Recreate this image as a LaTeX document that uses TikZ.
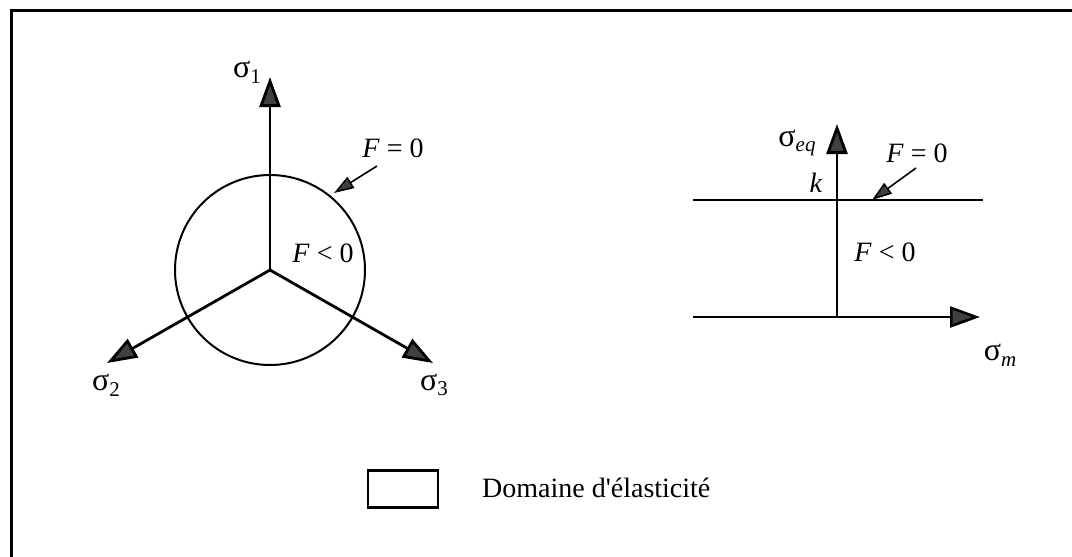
\documentclass[tikz,border=0pt]{standalone}
\usepackage{fontspec}
\setmainfont{Liberation Serif}
\newfontfamily\plainfont{Liberation Serif}
\usetikzlibrary{arrows.meta}
\newcommand\mysub[1]{\raisebox{-0.45ex}{\fontsize{21}{21}\selectfont #1}}
\newcommand\sig{{\fontsize{32}{32}\selectfont σ}}
\begin{document}
\begin{tikzpicture}[x=1pt,y=-1pt,
  axis/.style={line width=2.8pt,-{Triangle[length=30pt,width=21pt,fill=black!75]}},
  bigline/.style={line width=2.4pt},
  pointer/.style={line width=1.6pt,-{Triangle[length=20pt,width=13pt,fill=black!75]}},
  lbl/.style={font=\fontsize{28}{28}\selectfont,inner sep=0pt},
  txt/.style={font=\plainfont\fontsize{28}{30}\selectfont,inner sep=0pt}]
\useasboundingbox (0,0) rectangle (1072,557);
\fill[white] (0,0) rectangle (1072,557);
% frame
\draw[line width=3pt] (11,600) -- (11,10) -- (1100,10);
% left diagram
\coordinate (O) at (270,270);
\coordinate (T1) at (270,77);
\coordinate (T2) at (107,363);
\coordinate (T3) at (433,363);
\node[circle,draw,line width=2pt,minimum size=190pt,inner sep=0pt] (C) at (O) {};
\draw[axis] (O) -- (T1);
\draw[axis] (O) -- (T2);
\draw[axis] (O) -- (T3);
\node[lbl] (s1) at (247,72) {\sig\mysub{1}};
\node[lbl] (s2) at (106,385) {\sig\mysub{2}};
\node[lbl] (s3) at (434,385) {\sig\mysub{3}};
\node[lbl] (Fe1) at (393,148) {\textit{F} = 0};
\coordinate (P1) at (377,166);
\coordinate (Q1) at (334,193);
\draw[pointer] (P1) -- (Q1);
\node[lbl] (Fl1) at (323,253) {\textit{F} < 0};
% right diagram
\coordinate (V0) at (837,317);
\coordinate (V1) at (837,124);
\coordinate (H0) at (693,317);
\coordinate (H1) at (980,317);
\coordinate (K0) at (693,200);
\coordinate (K1) at (983,200);
\draw[bigline] (K0) -- (K1);
\draw[line width=2.6pt,-{Triangle[length=30pt,width=21pt,fill=black!75]}] (H0) -- (H1);
\draw[axis] (V0) -- (V1);
\node[lbl] (seq) at (797,143) {\sig\mysub{\textit{eq}}};
\node[lbl] (k) at (816,183) {\textit{k}};
\node[lbl] (Fe2) at (917,153) {\textit{F} = 0};
\coordinate (P2) at (916,168);
\coordinate (Q2) at (872,200);
\draw[pointer] (P2) -- (Q2);
\node[lbl] (Fl2) at (885,252) {\textit{F} < 0};
\node[lbl] (sm) at (1000,355) {\sig\mysub{\textit{m}}};
% legend
\node[draw,line width=2.4pt,minimum width=70pt,minimum height=37pt,inner sep=0pt] (box) at (403,489) {};
\node[txt,anchor=west] (dom) at (482,488) {Domaine d'élasticité};
\end{tikzpicture}
\end{document}
